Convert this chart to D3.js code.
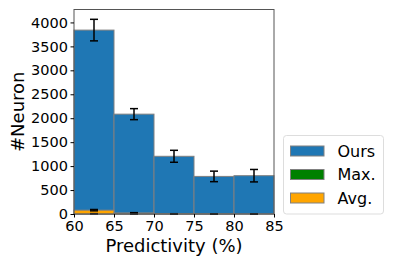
<!DOCTYPE html>
<html><head><meta charset="utf-8">
<script src="https://cdn.jsdelivr.net/npm/d3@7"></script>
<style>body{margin:0;background:#fff}svg{display:block}text{font-family:"DejaVu Sans",sans-serif}</style>
</head><body>
<script>
const binStarts = [60, 65, 70, 75, 80];
const binWidth = 5;
const oursValues = [3840, 2085, 1205, 785, 800];
const oursErr = [225, 115, 125, 110, 130];
const maxValues = [6, 3, 1, 1, 0];
const maxErr = [2, 1, 1, 0, 0];
const avgValues = [80, 22, 4, 2, 1];
const avgErr = [14, 6, 2, 1, 1];
const xTicks = [60, 65, 70, 75, 80, 85];
const yTicks = [0, 500, 1000, 1500, 2000, 2500, 3000, 3500, 4000];
const seriesNames = ["Ours", "Max.", "Avg."];
const seriesColors = ["#1f77b4", "#008000", "#ffa500"];

const W = 399, H = 266;
const m = {l: 74, r: 125, t: 9.5, b: 52};
const svg = d3.select("body").append("svg").attr("width", W).attr("height", H);
const x = d3.scaleLinear().domain([60, 85]).range([m.l, W - m.r]);
const y = d3.scaleLinear().domain([0, 4270]).range([H - m.b, m.t]);

const series = [
  {vals: oursValues, err: oursErr},
  {vals: maxValues, err: maxErr},
  {vals: avgValues, err: avgErr}
];
series.forEach((s, i) => {
  svg.append("g").selectAll("rect").data(binStarts).join("rect")
    .attr("x", d => x(d)).attr("width", d => x(d + binWidth) - x(d))
    .attr("y", (d, j) => y(s.vals[j])).attr("height", (d, j) => y(0) - y(s.vals[j]))
    .attr("fill", seriesColors[i]).attr("stroke", "#808080").attr("stroke-width", 1);
});
series.forEach((s, i) => {
  const g = svg.append("g").attr("stroke", "#000").attr("stroke-width", 1.5);
  binStarts.forEach((d, j) => {
    const cx = x(d + binWidth / 2);
    const y1 = y(s.vals[j] + s.err[j]), y2 = y(Math.max(0, s.vals[j] - s.err[j]));
    g.append("line").attr("x1", cx).attr("x2", cx).attr("y1", y1).attr("y2", y2);
    g.append("line").attr("x1", cx - 4).attr("x2", cx + 4).attr("y1", y1).attr("y2", y1);
    g.append("line").attr("x1", cx - 4).attr("x2", cx + 4).attr("y1", y2).attr("y2", y2);
  });
});

// frame
svg.append("rect").attr("x", m.l).attr("y", m.t).attr("width", x(85) - m.l).attr("height", y(0) - m.t)
  .attr("fill", "none").attr("stroke", "#555").attr("stroke-width", 1);

const xa = svg.append("g").attr("transform", `translate(0,${y(0)})`)
  .call(d3.axisBottom(x).tickValues(xTicks).tickFormat(d3.format("d")).tickSize(3.5).tickPadding(3.5));
const ya = svg.append("g").attr("transform", `translate(${m.l},0)`)
  .call(d3.axisLeft(y).tickValues(yTicks).tickFormat(d3.format("d")).tickSize(3.5).tickPadding(2.5));
[xa, ya].forEach(a => {
  a.select(".domain").remove();
  a.selectAll("text").attr("font-size", 14.5).attr("fill", "#000").style("font-family", "DejaVu Sans");
  a.selectAll("line").attr("stroke", "#000");
});

svg.append("text").attr("x", x(72.5)).attr("y", 252).attr("text-anchor", "middle")
  .attr("font-size", 18).text("Predictivity (%)");
svg.append("text").attr("transform", `translate(24,${(m.t + y(0)) / 2}) rotate(-90)`)
  .attr("text-anchor", "middle").attr("font-size", 18).text("#Neuron");

// legend
const lg = svg.append("g");
lg.append("rect").attr("x", 283.5).attr("y", 135.5).attr("width", 100).attr("height", 78.5).attr("rx", 3)
  .attr("fill", "#fff").attr("stroke", "#ddd");
seriesNames.forEach((n, i) => {
  const yy = 146 + i * 23.5;
  lg.append("rect").attr("x", 290.5).attr("y", yy).attr("width", 33.5).attr("height", 10)
    .attr("fill", seriesColors[i]).attr("stroke", "#808080");
  lg.append("text").attr("x", 337.5).attr("y", yy + 10.5).attr("font-size", 16).text(n);
});
</script>
</body></html>
